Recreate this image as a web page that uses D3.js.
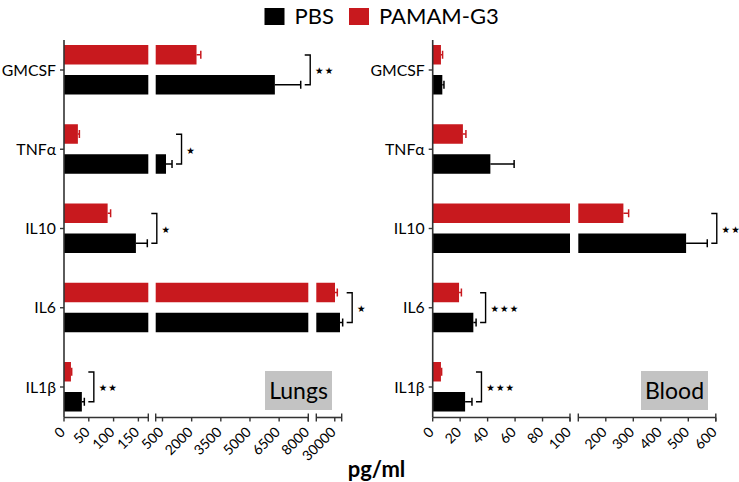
<!DOCTYPE html>
<html>
<head>
<meta charset="utf-8">
<script src="https://cdn.jsdelivr.net/npm/d3@7"></script>
<style>
  body { margin: 0; background: #fff; }
  text { font-family: Lato, "Open Sans", sans-serif; fill: #000; }
</style>
</head>
<body>
<svg width="739" height="482"></svg>
<script>
// ---- data ----
const cytokines = ["GMCSF", "TNFα", "IL10", "IL6", "IL1β"];

const lungsPBS      = [6280, 680, 145, 31130, 36];
const lungsPBSErr   = [1330, 310, 23, 580, 5];
const lungsPAMAM    = [2250, 28, 88, 30050, 14];
const lungsPAMAMErr = [220, 3, 6, 500, 1.5];

const bloodPBS      = [7, 42, 492, 29.6, 23.6];
const bloodPBSErr   = [1.2, 17.3, 77, 2, 5];
const bloodPAMAM    = [6, 22, 264, 19.2, 6];
const bloodPAMAMErr = [1.2, 2.2, 19, 1.7, 0.5];

const lungsSig = ["★★", "★", "★", "★", "★★"];
const bloodSig = ["", "", "★★", "★★★", "★★★"];

const lungsTicks = [[0, 50, 100, 150], [500, 2000, 3500, 5000, 6500, 8000], [30000]];
const bloodTicks = [[0, 20, 40, 60, 80, 100], [200, 300, 400, 500, 600]];

const legendNames = ["PBS", "PAMAM-G3"];

// ---- layout ----
const RED = "#c8191e";
const AXIS_COL = "#333";
const AXIS_Y = 417.5;
const TOP_Y = 40;

const svg = d3.select("svg");

const catY = d3.scalePoint().domain(cytokines).range([70, 387]);

// broken axis: every piece gets its own linear scale
const lungsSegs = [
  { domain: [0, 170],       range: [64, 148.3],    ticks: lungsTicks[0] },
  { domain: [150, 8000],    range: [155.7, 308.3], ticks: lungsTicks[1] },
  { domain: [26000, 31500], range: [316.3, 341.7], ticks: lungsTicks[2] }
];
const bloodSegs = [
  { domain: [0, 100],   range: [432.7, 570],   ticks: bloodTicks[0] },
  { domain: [100, 600], range: [578.3, 715.8], ticks: bloodTicks[1] }
];

const withScales = segs => segs.map(s => Object.assign({}, s, {
  scale: d3.scaleLinear().domain(s.domain).range(s.range)
}));

const segFor = (segs, v) => segs.find(s => v <= s.domain[1]) || segs[segs.length - 1];
const posOf = (segs, v) => segFor(segs, v).scale(v);

const drawPanel = (segsRaw, series, sig, title, box) => {
  const segs = withScales(segsRaw);
  const x0 = segs[0].range[0];
  const g = svg.append("g");

  // bars, error bars
  series.forEach(sr => {
    sr.values.forEach((v, i) => {
      const y = catY(cytokines[i]) + sr.offset;
      segs.forEach(s => {
        if (v <= s.domain[0] && s !== segs[0]) return;
        const xe = s.scale(Math.min(v, s.domain[1]));
        g.append("rect")
         .attr("x", s.range[0])
         .attr("y", y)
         .attr("width", Math.max(0, xe - s.range[0]))
         .attr("height", 19.5)
         .attr("fill", sr.color);
      });
      const xa = posOf(segs, v);
      const xb = segFor(segs, v).scale(v + sr.errs[i]);
      const yc = y + 9.75;
      g.append("line").attr("x1", xa).attr("x2", xb).attr("y1", yc).attr("y2", yc)
       .attr("stroke", sr.color).attr("stroke-width", 1.5);
      g.append("line").attr("x1", xb).attr("x2", xb).attr("y1", yc - 4).attr("y2", yc + 4)
       .attr("stroke", sr.color).attr("stroke-width", 1.5);
    });
  });

  // significance brackets
  sig.forEach((s, i) => {
    if (!s) return;
    const c = catY(cytokines[i]);
    const ends = series.map(sr => segFor(segs, sr.values[i]).scale(sr.values[i] + sr.errs[i]));
    const bx = d3.max(ends) + 9.5;
    const yTop = c - 15, yBot = c + 14.7;
    g.append("path")
     .attr("d", `M${bx - 5.5},${yTop}H${bx}V${yBot}H${bx - 5.5}`)
     .attr("fill", "none").attr("stroke", "#000").attr("stroke-width", 1.4);
    // small gap between stars, none after the last one
    const gaps = Array.from(s).map((ch, k) => (k === 0 ? 0 : 1.1)).join(" ");
    g.append("text")
     .attr("x", bx + 4.8).attr("y", c + 1)
     .attr("dy", "0.35em")
     .attr("dx", gaps)
     .style("font-family", "DejaVu Sans")
     .style("font-size", "9.5px")
     .text(s);
  });

  // y axis
  g.append("line").attr("x1", x0).attr("x2", x0).attr("y1", TOP_Y).attr("y2", AXIS_Y)
   .attr("stroke", AXIS_COL).attr("stroke-width", 1.6);
  cytokines.forEach(c => {
    g.append("line").attr("x1", x0 - 4).attr("x2", x0).attr("y1", catY(c)).attr("y2", catY(c))
     .attr("stroke", AXIS_COL).attr("stroke-width", 1.4);
    g.append("text").attr("x", x0 - 8).attr("y", catY(c)).attr("dy", "0.36em")
     .attr("text-anchor", "end").style("font-size", "15.8px").text(c);
  });

  // x axis pieces
  segs.forEach((s, k) => {
    g.append("line").attr("x1", s.range[0]).attr("x2", s.range[1])
     .attr("y1", AXIS_Y).attr("y2", AXIS_Y)
     .attr("stroke", AXIS_COL).attr("stroke-width", 1.6);
    if (k > 0) {
      g.append("line").attr("x1", s.range[0]).attr("x2", s.range[0])
       .attr("y1", AXIS_Y - 4).attr("y2", AXIS_Y + 4)
       .attr("stroke", AXIS_COL).attr("stroke-width", 1.4);
    }
    g.append("line").attr("x1", s.range[1]).attr("x2", s.range[1])
     .attr("y1", AXIS_Y - 4).attr("y2", AXIS_Y + 4)
     .attr("stroke", AXIS_COL).attr("stroke-width", 1.4);
    s.ticks.forEach(t => {
      const tx = s.scale(t);
      g.append("line").attr("x1", tx).attr("x2", tx).attr("y1", AXIS_Y).attr("y2", AXIS_Y + 4)
       .attr("stroke", AXIS_COL).attr("stroke-width", 1.4);
      g.append("text")
       .attr("transform", `translate(${tx - 1.5},${AXIS_Y + 12}) rotate(-45)`)
       .attr("text-anchor", "end")
       .attr("dy", "0.35em")
       .style("font-size", "14px")
       .text(t);
    });
  });

  // panel label
  g.append("rect").attr("x", box[0]).attr("y", box[1]).attr("width", box[2]).attr("height", box[3])
   .attr("fill", "#c3c3c3");
  g.append("text").attr("x", box[0] + box[2] / 2).attr("y", box[1] + box[3] / 2)
   .attr("dy", "0.36em").attr("text-anchor", "middle")
   .style("font-size", "23px").text(title);
};

drawPanel(lungsSegs, [
  { values: lungsPAMAM, errs: lungsPAMAMErr, color: RED, offset: -25 },
  { values: lungsPBS, errs: lungsPBSErr, color: "#000", offset: 5 }
], lungsSig, "Lungs", [265, 371, 67, 39]);

drawPanel(bloodSegs, [
  { values: bloodPAMAM, errs: bloodPAMAMErr, color: RED, offset: -25 },
  { values: bloodPBS, errs: bloodPBSErr, color: "#000", offset: 5 }
], bloodSig, "Blood", [641, 371, 67, 39]);

// axis title
svg.append("text").attr("x", 376.5).attr("y", 477).attr("text-anchor", "middle")
   .style("font-size", "22px").style("font-weight", "bold").text("pg/ml");

// legend
const legend = svg.append("g");
const legendX = [264.5, 349];
legendNames.forEach((n, i) => {
  legend.append("rect").attr("x", legendX[i]).attr("y", 8).attr("width", 20).attr("height", 17)
        .attr("fill", i === 0 ? "#000" : RED);
  legend.append("text").attr("x", legendX[i] + 30).attr("y", 16.5).attr("dy", "0.36em")
        .style("font-size", "22px").text(n);
});
</script>
</body>
</html>
